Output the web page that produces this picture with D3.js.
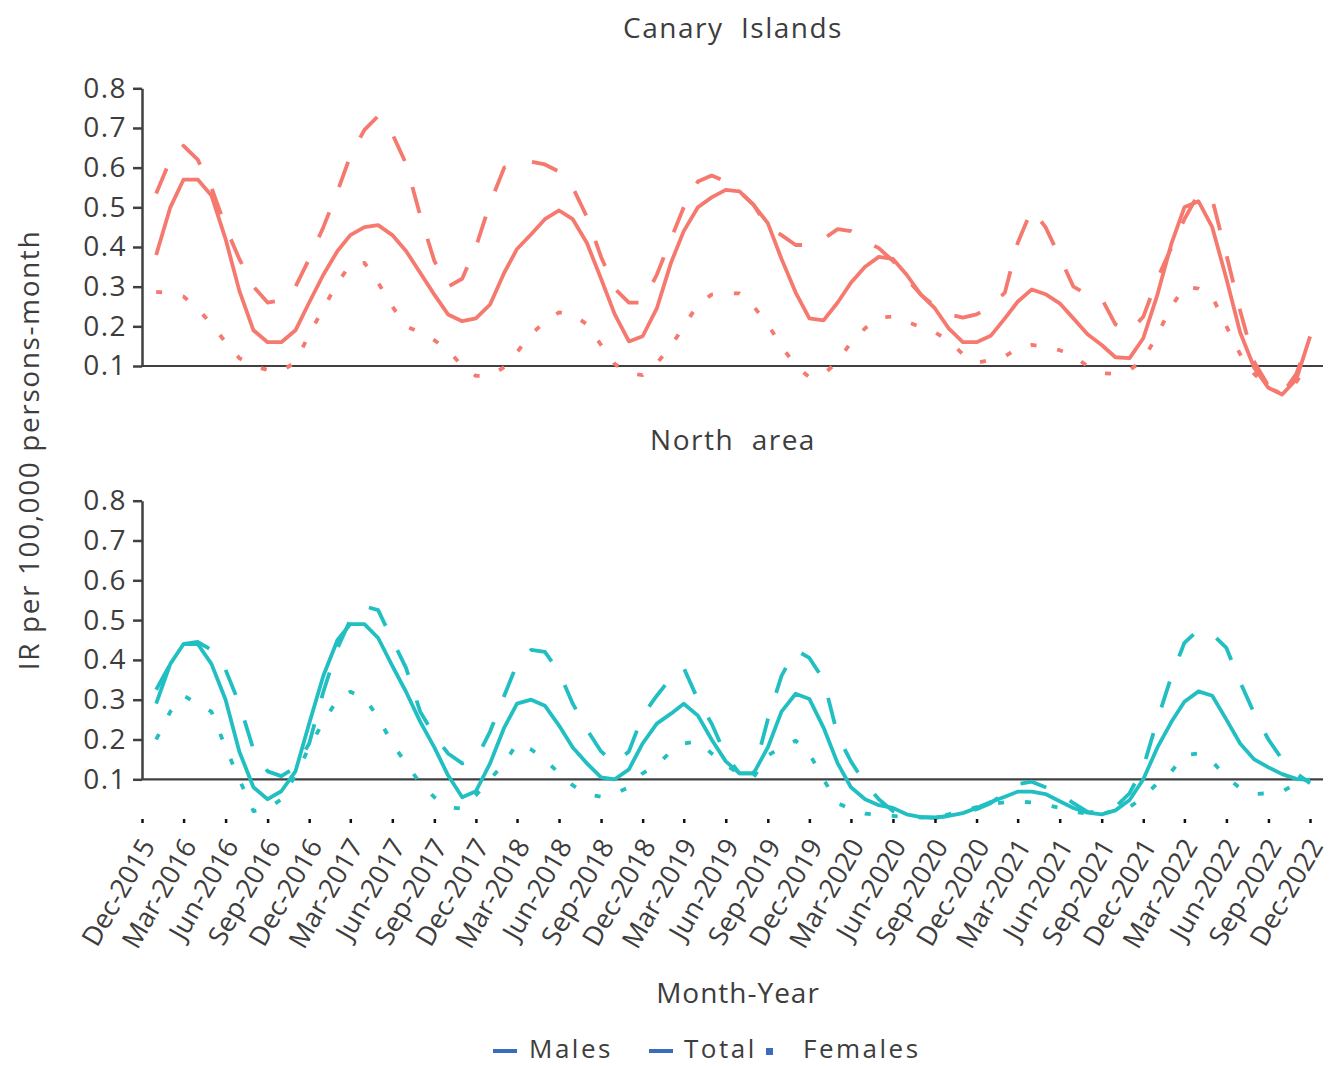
<!DOCTYPE html>
<html>
<head>
<meta charset="utf-8">
<script src="https://cdn.jsdelivr.net/npm/d3@7"></script>
<style>
  body { margin: 0; background: #fff; }
  svg text { font-family: "Open Sans", "DejaVu Sans", sans-serif; fill: #3d3d3d; }
</style>
</head>
<body>
<svg id="chart" width="1333" height="1066"></svg>
<script>
// monthly incidence rates, Jan-2016 .. Dec-2022
const canaryTotal = [0.38,0.50,0.57,0.57,0.53,0.42,0.29,0.19,0.16,0.16,
  0.19,0.26,0.33,0.39,0.43,0.45,0.455,0.43,0.39,0.335,
  0.28,0.23,0.213,0.22,0.255,0.335,0.395,0.432,0.47,0.492,
  0.47,0.41,0.32,0.23,0.162,0.175,0.245,0.36,0.44,0.50,
  0.525,0.544,0.54,0.506,0.46,0.37,0.285,0.22,0.215,0.26,
  0.31,0.35,0.375,0.37,0.33,0.28,0.245,0.195,0.16,0.16,
  0.176,0.22,0.262,0.293,0.281,0.258,0.22,0.18,0.153,0.122,
  0.12,0.17,0.28,0.41,0.50,0.515,0.45,0.32,0.185,0.095,
  0.045,0.028,0.066,0.174];
const canaryMales = [0.535,0.62,0.655,0.62,0.55,0.45,0.37,0.30,0.26,0.265,
  0.30,0.37,0.45,0.54,0.63,0.695,0.73,0.685,0.61,0.48,
  0.365,0.30,0.32,0.40,0.51,0.60,0.61,0.615,0.608,0.59,
  0.55,0.476,0.375,0.295,0.26,0.26,0.33,0.42,0.50,0.565,
  0.58,0.565,0.54,0.506,0.45,0.43,0.405,0.405,0.42,0.445,
  0.44,0.415,0.397,0.365,0.32,0.28,0.25,0.23,0.222,0.23,
  0.25,0.285,0.41,0.495,0.45,0.375,0.30,0.28,0.27,0.205,
  0.187,0.224,0.32,0.40,0.47,0.535,0.52,0.38,0.24,0.11,
  0.05,0.03,0.08,0.174];
const canaryFemales = [0.287,0.283,0.275,0.245,0.205,0.16,0.12,0.10,0.09,0.087,
  0.11,0.18,0.245,0.31,0.355,0.36,0.31,0.25,0.20,0.185,
  0.165,0.14,0.10,0.075,0.075,0.097,0.135,0.18,0.212,0.235,
  0.23,0.205,0.153,0.105,0.082,0.077,0.107,0.15,0.20,0.255,
  0.28,0.283,0.283,0.25,0.205,0.15,0.10,0.072,0.08,0.11,
  0.16,0.195,0.222,0.225,0.212,0.198,0.185,0.163,0.13,0.108,
  0.115,0.124,0.145,0.153,0.148,0.14,0.125,0.10,0.082,0.08,
  0.09,0.115,0.18,0.25,0.30,0.295,0.275,0.20,0.13,0.08,
  0.045,0.03,0.06,0.11];

const northTotal = [0.29,0.39,0.44,0.44,0.39,0.30,0.17,0.08,0.05,0.07,
  0.12,0.24,0.36,0.45,0.49,0.49,0.455,0.385,0.32,0.245,
  0.18,0.11,0.055,0.07,0.14,0.23,0.29,0.30,0.285,0.235,
  0.18,0.14,0.105,0.10,0.125,0.19,0.24,0.265,0.29,0.26,
  0.20,0.145,0.115,0.115,0.18,0.27,0.315,0.302,0.23,0.14,
  0.08,0.05,0.035,0.028,0.012,0.005,0.003,0.008,0.015,0.028,
  0.043,0.056,0.069,0.069,0.063,0.045,0.028,0.016,0.012,0.022,
  0.048,0.10,0.18,0.245,0.295,0.321,0.31,0.25,0.19,0.15,
  0.13,0.113,0.101,0.098];
const northMales = [0.325,0.39,0.44,0.445,0.425,0.375,0.29,0.175,0.12,0.108,
  0.13,0.19,0.32,0.43,0.50,0.535,0.525,0.45,0.38,0.27,
  0.21,0.165,0.14,0.15,0.22,0.31,0.39,0.425,0.42,0.37,
  0.29,0.225,0.17,0.14,0.17,0.26,0.31,0.355,0.38,0.30,
  0.24,0.16,0.115,0.115,0.25,0.36,0.425,0.405,0.35,0.21,
  0.145,0.09,0.05,0.02,0.012,0.005,0.004,0.008,0.015,0.025,
  0.04,0.066,0.088,0.094,0.08,0.065,0.04,0.018,0.016,0.03,
  0.065,0.13,0.25,0.36,0.443,0.476,0.465,0.43,0.345,0.265,
  0.2,0.15,0.115,0.09];
const northFemales = [0.20,0.27,0.31,0.29,0.27,0.18,0.10,0.02,0.025,0.05,
  0.11,0.18,0.245,0.30,0.32,0.305,0.255,0.19,0.14,0.09,
  0.055,0.03,0.026,0.06,0.10,0.14,0.19,0.175,0.15,0.115,
  0.085,0.062,0.056,0.064,0.08,0.115,0.135,0.17,0.19,0.195,
  0.165,0.135,0.115,0.105,0.16,0.18,0.197,0.165,0.10,0.04,
  0.025,0.014,0.01,0.008,0.005,0.004,0.006,0.012,0.02,0.03,
  0.038,0.042,0.044,0.042,0.036,0.028,0.018,0.014,0.014,0.02,
  0.03,0.055,0.09,0.12,0.16,0.165,0.145,0.105,0.078,0.063,
  0.065,0.069,0.09,0.10];

const yTicks = [0.1, 0.2, 0.3, 0.4, 0.5, 0.6, 0.7, 0.8];
const legendItems = ["Males", "Total", "Females"];

const months = d3.timeMonth.range(new Date(2016, 0, 1), new Date(2023, 0, 1));
const xTicks = d3.timeMonth.range(new Date(2015, 11, 1), new Date(2023, 0, 1), 3); // Dec, Mar, Jun, Sep
const fmt = d3.timeFormat("%b-%Y");

const svg = d3.select('#chart');
svg.append('rect').attr('width', 1333).attr('height', 1066).attr('fill', '#fff');

const x = d3.scaleTime()
  .domain([new Date(2015, 11, 1), new Date(2022, 11, 1)])
  .range([142, 1310]);

const dashes = { Total: null, Males: '27,27', Females: '6,21' };

const panels = [
  { title: 'Canary\u00a0\u00a0Islands', titleY: 38, color: '#F5796E', top: 88.3, bottom: 366,
    series: { Females: canaryFemales, Males: canaryMales, Total: canaryTotal } },
  { title: 'North\u00a0\u00a0area', titleY: 450, color: '#22BFC2', top: 500.7, bottom: 779.3,
    series: { Females: northFemales, Males: northMales, Total: northTotal } }
];

panels.forEach(p => {
  const y = d3.scaleLinear().domain([0.1, 0.8]).range([p.bottom, p.top]);
  const g = svg.append('g');

  g.append('text')
    .attr('x', 733).attr('y', p.titleY)
    .attr('text-anchor', 'middle')
    .attr('font-size', 28).attr('letter-spacing', 1.5)
    .text(p.title);

  // baseline at 0.1
  g.append('line')
    .attr('x1', x.range()[0]).attr('x2', x.range()[1] + 13)
    .attr('y1', y(0.1)).attr('y2', y(0.1))
    .attr('stroke', '#404040').attr('stroke-width', 2.2);

  const yAxis = g.append('g')
    .attr('transform', `translate(${x.range()[0]},0)`)
    .call(d3.axisLeft(y).tickValues(yTicks).tickSize(9).tickSizeOuter(0).tickPadding(6)
      .tickFormat(d3.format('.1f')));
  yAxis.select('.domain').attr('stroke', '#404040').attr('stroke-width', 2.5);
  yAxis.selectAll('.tick line').attr('stroke', '#404040').attr('stroke-width', 2.5);
  yAxis.selectAll('.tick text')
    .attr('font-size', 28).attr('letter-spacing', 1.5)
    .attr('font-family', '"Open Sans", sans-serif').attr('fill', '#3d3d3d');

  const line = d3.line()
    .x((d, i) => x(months[i]))
    .y(d => y(d));

  Object.entries(p.series).forEach(([name, vals]) => {
    g.append('path')
      .datum(vals)
      .attr('d', line)
      .attr('fill', 'none')
      .attr('stroke', p.color)
      .attr('stroke-width', 3.8)
      .attr('stroke-linejoin', 'round')
      .attr('stroke-dasharray', dashes[name]);
  });
});

// bottom x axis ticks + labels
const xAxis = svg.append('g')
  .attr('transform', 'translate(0,819)')
  .call(d3.axisBottom(x).tickValues(xTicks).tickSize(4).tickSizeOuter(0).tickFormat(''));
xAxis.select('.domain').remove();
xAxis.selectAll('.tick line').attr('stroke', '#111').attr('stroke-width', 2.5);

svg.append('g').selectAll('text')
  .data(xTicks)
  .enter()
  .append('text')
  .attr('transform', d => `translate(${x(d) + 14},846) rotate(-60)`)
  .attr('text-anchor', 'end')
  .attr('font-size', 27)
  .text(d => fmt(d));

svg.append('text')
  .attr('transform', 'translate(39,450) rotate(-90)')
  .attr('text-anchor', 'middle')
  .attr('font-size', 28).attr('letter-spacing', 1.6)
  .text('IR per 100,000 persons-month');

svg.append('text')
  .attr('x', 738).attr('y', 1003)
  .attr('text-anchor', 'middle')
  .attr('font-size', 28).attr('letter-spacing', 1)
  .text('Month-Year');

// legend
const legendX = [493, 649, 766];
const legendTextX = [529, 684, 803];
const leg = svg.append('g');
legendItems.forEach((name, i) => {
  if (name === 'Females') {
    leg.append('rect').attr('x', legendX[i]).attr('y', 1048)
      .attr('width', 7).attr('height', 7).attr('fill', '#3A6BBF');
  } else {
    leg.append('line')
      .attr('x1', legendX[i]).attr('x2', legendX[i] + 24)
      .attr('y1', 1051).attr('y2', 1051)
      .attr('stroke', '#3A6BBF').attr('stroke-width', 4);
  }
  leg.append('text')
    .attr('x', legendTextX[i]).attr('y', 1058)
    .attr('font-size', 26).attr('letter-spacing', 2.5)
    .text(name);
});
</script>
</body>
</html>
